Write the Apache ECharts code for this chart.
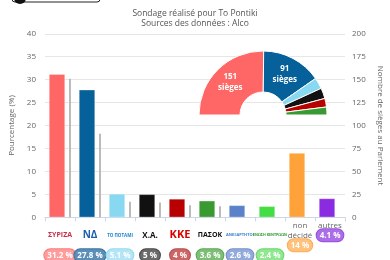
<!DOCTYPE html>
<html><head><meta charset="utf-8">
<script src="https://cdn.jsdelivr.net/npm/echarts@6/dist/echarts.min.js"></script>
<style>html,body{margin:0;padding:0;background:#fff}#c{width:390px;height:260px}</style>
</head><body><div id="c"></div>
<script>
const categories = ['ΣΥΡΙΖΑ', 'ΝΔ', 'Το Ποτάμι', 'Χρυσή Αυγή', 'ΚΚΕ', 'ΠΑΣΟΚ', 'ΑΝΕΛ', 'Ένωση Κεντρώων', 'non décidé', 'autres'];
const percentages = [31.2, 27.8, 5.1, 5, 4, 3.6, 2.6, 2.4, 14, 4.1];
const seats = [151, 91, 17, 16, 13, 12, null, null, null, null];
const badgeTexts = ['31.2 %', '27.8 %', '5.1 %', '5 %', '4 %', '3.6 %', '2.6 %', '2.4 %', '14 %', '4.1 %'];
const logoTexts = ['ΣΥΡΙΖΑ', 'ΝΔ', 'ΤΟ ΠΟΤΑΜΙ', 'Χ.Α.', 'ΚΚΕ', 'ΠΑΣΟΚ', 'ΑΝΕΞΑΡΤΗΤΟΙ', 'ΕΝΩΣΗ ΚΕΝΤΡΩΩΝ'];
const titleLines = ['Sondage réalisé pour To Pontiki', 'Sources des données : Alco'];
const leftAxisName = 'Pourcentage (%)';
const rightAxisName = 'Nombre de sièges au Parlement';
const seatLabel = 'sièges';

const barColors = ['#ff6666', '#06609a', '#88d8f2', '#111111', '#b80000', '#3a9a32', '#5b82c8', '#44dd44', '#ffa23a', '#8a2be2'];
const badgeBg = ['#ff9c9c', '#5a8db8', '#b3e5f7', '#6a6a6a', '#cc6666', '#7cbf75', '#93aadc', '#8fe88f', '#ffc27c', '#ab6ee8'];
const badgeBorder = ['#ff7a7a', '#3c73a3', '#95d9f1', '#444444', '#b84a4a', '#5aa853', '#748fcc', '#6ad66a', '#ffab55', '#9550dc'];
const logoStyles = [
  {color: '#c8304c', fontSize: 7, fontWeight: 'bold'},
  {color: '#1f5fb0', fontSize: 10, fontWeight: 'bold'},
  {color: '#1a84d0', fontSize: 4.5, fontWeight: 'bold'},
  {color: '#111', fontSize: 8, fontWeight: 'bold'},
  {color: '#dd0000', fontSize: 11, fontWeight: 'bold'},
  {color: '#111', fontSize: 7, fontWeight: 'bold'},
  {color: '#3a7fd0', fontSize: 4, fontWeight: 'bold'},
  {color: '#2a9a2a', fontSize: 3.6, fontWeight: 'bold'}
];

const rich = {
  g: {color: '#666', fontSize: 8, lineHeight: 10, fontFamily: 'Open Sans'}
};
badgeBg.forEach(function (bg, i) {
  rich['b' + i] = {
    backgroundColor: bg, borderColor: badgeBorder[i], borderWidth: 1, borderRadius: 6,
    color: '#fff', fontWeight: 'bold', fontSize: 8, fontFamily: 'Open Sans',
    padding: [2, 3, 2, 3], lineHeight: 10
  };
});
logoStyles.forEach(function (s, i) {
  rich['l' + i] = Object.assign({lineHeight: 30, fontFamily: 'Open Sans'}, s);
});

const chart = echarts.init(document.getElementById('c'), null, {renderer: 'canvas'});
chart.setOption({
  animation: false,
  title: {
    text: titleLines.join('\n'), left: 'center', top: 4,
    textStyle: {fontSize: 8.5, fontWeight: 'normal', color: '#555', lineHeight: 10, fontFamily: 'Open Sans'}
  },
  graphic: [
    {type: 'rect', shape: {x: 12, y: -10, width: 88, height: 12, r: 3}, style: {fill: '#fff', stroke: '#222', lineWidth: 1}},
    {type: 'circle', shape: {cx: 20, cy: -2, r: 6}, style: {fill: '#111'}}
  ],
  grid: {left: 45, right: 45, top: 33.8, bottom: 42.7, containLabel: false, outerBoundsMode: 'none'},
  xAxis: {
    type: 'category', data: categories,
    axisLine: {lineStyle: {color: '#ccd6eb'}},
    axisTick: {show: true, length: 4, lineStyle: {color: '#ccd6eb'}},
    axisLabel: {
      interval: 0, margin: 3,
      formatter: function (v, i) {
        if (i < 8) return '{l' + i + '|' + logoTexts[i] + '}\n{b' + i + '|' + badgeTexts[i] + '}';
        if (i === 8) return '{g|non}\n{g|décidé}\n{b8|' + badgeTexts[8] + '}';
        return '{g|' + v + '}\n{b9|' + badgeTexts[9] + '}';
      },
      rich: rich
    }
  },
  yAxis: [
    {
      type: 'value', min: 0, max: 40, interval: 5,
      name: leftAxisName, nameLocation: 'middle', nameGap: 25,
      nameTextStyle: {color: '#666', fontSize: 8, fontFamily: 'Open Sans'},
      axisLine: {show: false}, axisTick: {show: false},
      axisLabel: {color: '#666', fontSize: 8, margin: 9, fontFamily: 'Open Sans'},
      splitLine: {lineStyle: {color: '#e6e6e6'}}
    },
    {
      type: 'value', min: 0, max: 200, interval: 25, position: 'right',
      name: rightAxisName, nameLocation: 'middle', nameGap: 28, nameRotate: -90,
      nameTextStyle: {color: '#666', fontSize: 8, fontFamily: 'Open Sans'},
      axisLine: {show: false}, axisTick: {show: false},
      axisLabel: {color: '#666', fontSize: 8, margin: 7, fontFamily: 'Open Sans'},
      splitLine: {show: false}
    }
  ],
  series: [
    {
      type: 'bar', barWidth: 16, barGap: '25%',
      data: percentages.map(function (v, i) { return {value: v, itemStyle: {color: barColors[i]}}; }),
      itemStyle: {borderColor: 'rgba(255,255,255,0.6)', borderWidth: 0.5}
    },
    {
      type: 'bar', yAxisIndex: 1, barWidth: 2, barGap: '25%',
      data: seats, itemStyle: {color: '#bbbbbb'}
    },
    {
      type: 'pie', center: [263, 115], radius: [23, 64], startAngle: 180, endAngle: 0,
      z: 5, silent: true,
      itemStyle: {borderColor: '#fff', borderWidth: 1},
      labelLine: {show: false},
      data: seats.slice(0, 6).map(function (s, i) {
        return {
          value: s, name: categories[i], itemStyle: {color: barColors[i]},
          label: {show: i < 2}
        };
      }),
      label: {
        position: 'inside', color: '#fff', fontSize: 8, fontWeight: 'bold', lineHeight: 11,
        fontFamily: 'Open Sans', textBorderWidth: 0,
        formatter: function (p) { return p.value + '\n' + seatLabel; }
      }
    }
  ]
});
</script>
</body></html>
